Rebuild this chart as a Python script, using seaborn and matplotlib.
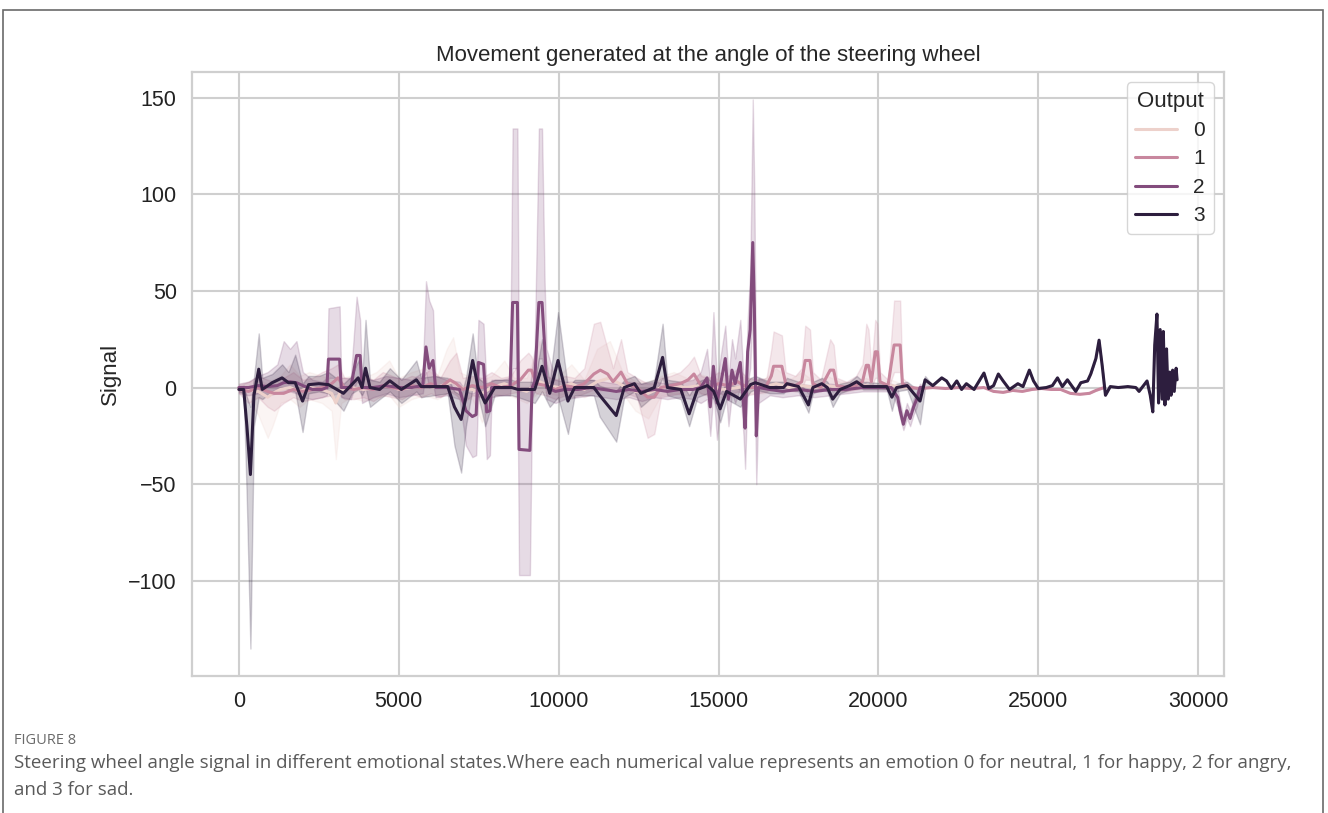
import matplotlib
matplotlib.use("Agg")
import matplotlib.pyplot as plt
from matplotlib.patches import Rectangle
import pandas as pd
import seaborn as sns

# ---------------- data ----------------
# Output 0 (neutral)
x0 = [0, 300, 600, 900, 1050, 1300, 1600, 1900, 2200, 2600, 2900, 3030, 3200, 3500, 3900, 4300, 4700, 5000,
      5400, 5800, 6200, 6500, 6700, 6900, 7300, 7600, 7900, 8300, 8600, 9000, 9400, 9700, 10000, 10400,
      10800, 11200, 11600, 12000, 12400, 12800, 13200, 13600, 14000, 14400, 14800, 15200, 15600, 16000,
      16400, 16800, 17200, 17600, 18000, 18400, 18800, 19200, 19600, 20000, 20400, 20900]
y0 = [0, -1, -2, -5, -3, -1, 0, -2, 0, -1, -3, -8, -1, 0, -1, 0, 1, -1,
      0, 1, 0, 2, 3, 0, -1, -3, 0, 2, 0, -2, 3, 1, 0, 2,
      -1, 3, 5, 1, -2, -3, 0, 1, 0, 1, 0, -1, 0, 1,
      0, 2, 0, 1, 0, 1, 0, 0, 1, 0, 1, 0]
lo0 = [-2, -6, -14, -26, -20, -8, -6, -10, -6, -8, -12, -37, -8, -5, -7, -5, -4, -10,
       -6, -4, -6, -3, -2, -5, -6, -18, -5, -3, -5, -8, -2, -3, -4, -2,
       -5, -2, -1, -3, -12, -16, -4, -3, -4, -3, -5, -5, -4, -3,
       -3, -1, -2, -1, -2, -1, -2, -1, -1, -1, -1, -1]
hi0 = [2, 3, 4, 2, 4, 6, 12, 6, 8, 6, 4, 3, 5, 6, 5, 8, 14, 5,
       8, 10, 6, 20, 26, 8, 5, 4, 6, 14, 5, 5, 24, 10, 6, 12,
       4, 20, 24, 8, 3, 3, 6, 8, 5, 7, 5, 4, 6, 5,
       4, 10, 4, 8, 3, 6, 3, 3, 5, 2, 4, 1]

# Output 1 (happy)
x1 = [0, 300, 600, 900, 1100, 1400, 1700, 2000, 2300, 2600, 2900, 3100, 3300, 3600, 3900, 4200, 4500, 4800,
      5100, 5400, 5700, 6000, 6300, 6600, 6800, 7000, 7300, 7600, 7900, 8200, 8500, 8800, 9050, 9150,
      9300, 9600, 9900, 10200, 10500, 10800, 11100, 11300, 11530, 11700, 11950, 12150, 12450, 12780,
      12990, 13200, 13500, 13800, 14050, 14230, 14450, 14700, 15000, 15300, 15600, 15900, 16200, 16500,
      16650, 16720, 16980, 17100, 17400, 17600, 17710, 17860, 17950, 18200, 18490, 18600, 18700, 19000,
      19300, 19500, 19620, 19690, 19780, 19900, 19970, 20050, 20300, 20490, 20680, 20750, 21000,
      21300, 21700, 22100, 22500, 22900, 23300, 23600, 23900, 24200, 24500, 24800, 25100, 25400,
      25700, 26000, 26300, 26600, 26800, 27060]
y1 = [-1, -2, 0, -2, -3, -3, -1, -2, -1, 0, 2, 5, 0, -1, 0, -1, 1, 0,
      -1, 1, 0, 2, 0, 4, 2, -1, 1, 0, 2, 0, 1, 4, 9, 9,
      2, 1, -1, 1, 0, 2, 7, 9, 7, 3, 8, 2, 0, -5,
      -5, 0, 1, 2, 4, 7, 1, 0, 2, 1, 3, 0, 0, 1,
      6, 11, 11, 2, 1, 3, 14, 14, 2, 0, 9, 9, 1, 0,
      1, 3, 11.5, 11.5, 3, 18.5, 18.5, 3, 1, 22, 22, 2, 0,
      -0.5, 0, -0.5, 0, -0.5, 0, -2, -2.5, -1.5, -2, -1, -0.5, -1,
      -1, -3, -3.5, -3, -1.5, 0]
lo1 = [-3, -8, -5, -10, -12, -8, -5, -7, -6, -5, -4, -3, -6, -6, -5, -7, -4, -5,
       -6, -3, -5, -3, -5, -2, -4, -8, -4, -5, -3, -4, -3, -2, 0, 0,
       -3, -4, -6, -4, -5, -3, -1, 0, 0, -2, 0, -3, -5, -26,
       -24, -5, -4, -3, -1, 0, -3, -4, -3, -4, -2, -4, -3, -2,
       0, 2, 2, -1, -2, -1, 4, 4, -1, -2, 1, 1, -2, -2,
       -1, 0, 3, 3, 0, 5, 5, 0, -1, 8, 8, 0, -1,
       -0.5, 0, -0.5, 0, -0.5, 0, -2, -2.5, -1.5, -2, -1, -0.5, -1,
       -1, -3, -3.5, -3, -1.5, 0]
hi1 = [1, 3, 6, 4, 3, 5, 8, 4, 5, 8, 10, 12, 5, 4, 6, 4, 8, 6,
       4, 6, 5, 10, 5, 14, 18, 5, 6, 5, 8, 5, 6, 14, 18, 16,
       8, 6, 4, 6, 5, 10, 33, 34, 20, 10, 25, 8, 5, 2,
       2, 5, 6, 8, 12, 16, 6, 5, 8, 6, 10, 5, 4, 5,
       20, 29, 27, 8, 6, 10, 32, 30, 8, 4, 25, 22, 5, 3,
       6, 12, 33, 30, 10, 35, 33, 8, 4, 45, 45, 5, 1,
       -0.5, 0, -0.5, 0, -0.5, 0, -2, -2.5, -1.5, -2, -1, -0.5, -1,
       -1, -3, -3.5, -3, -1.5, 0]

# Output 2 (angry)
x2 = [0, 300, 600, 900, 1200, 1400, 1600, 1800, 2000, 2300, 2600, 2750, 2800, 3150, 3200, 3500, 3680, 3790,
      3850, 4200, 4600, 5000, 5400, 5750, 5850, 5950, 6070, 6150, 6500, 6900, 7100, 7300, 7420, 7490,
      7650, 7750, 7850, 7900, 8200, 8480, 8560, 8710, 8760, 9100, 9170, 9250, 9380, 9480, 9560, 9620,
      9900, 10200, 10600, 11000, 11400, 11800, 12200, 12600, 13000, 13400, 13800, 14200, 14440, 14640,
      14740, 14840, 14950, 15100, 15210, 15310, 15420, 15520, 15680, 15780, 15830, 15910, 15990, 16070,
      16120, 16180, 16250, 16600, 17000, 17500, 18000, 18500, 19000, 19500, 20000, 20400, 20600, 20680,
      20780, 20890, 20990, 21100, 21200, 21300, 21400]
y2 = [0, 0, 1, 0.5, 1, 2.5, 3, 2.5, 1, -1, -1, 0, 14.7, 14.7, 0, 0, 16.6, 16.6,
      0, 0, 1, 0, 0, 1, 21, 10, 14, 0, 0, -1, -12, -15, -14, 13,
      12, -12.6, -12, 0, 0, 0, 44, 44, -32, -32.5, 0, 3, 44, 44, 22, 0,
      -2, -1, -1, 0, -1, -2, -1, -2, -1, -2, -1, -1, 0, 5,
      -10, 11, -8, 5, 15, -6, 9, 2, 13, -8, -21, 18.5, 30, 75,
      41, -25, 0, -1, -2, -1, -2, -1, -1, 0, 0, 0, -5, -12,
      -19, -12, -16, -10, -6, 0, 0]
lo2 = [-3, -4, -3, -4, -3, -2, -2, -3, -5, -6, -5, -4, 5, 5, -5, -6, 3, 2,
       -8, -5, -3, -5, -4, -3, 8, 0, 2, -5, -4, -6, -30, -36, -35, -2,
       -4, -37, -35, -5, -4, -4, 10, 10, -97, -97, -5, -2, 15, 15, 5, -6,
       -8, -6, -5, -4, -5, -6, -5, -7, -5, -6, -5, -6, -8, -6,
       -25, -2, -27, -5, 2, -20, -3, -8, 0, -25, -42, 2, 10, 40,
       10, -50, -8, -4, -5, -4, -5, -4, -3, -2, -2, -2, -10, -16,
       -22, -16, -20, -14, -10, -2, 0]
hi2 = [2, 3, 6, 8, 12, 24, 20, 24, 8, 4, 3, 5, 41, 42, 5, 5, 47, 35,
       5, 4, 6, 5, 4, 8, 55, 45, 40, 6, 4, 3, -2, -3, -2, 35,
       33, -2, 0, 4, 4, 5, 134, 134, 0, 0, 10, 20, 134, 134, 55, 20,
       4, 3, 3, 4, 3, 2, 3, 2, 3, 2, 3, 4, 8, 20,
       2, 39, 3, 20, 32, 5, 25, 15, 35, 5, -5, 35, 60, 149,
       100, -5, 5, 2, 1, 2, 1, 2, 1, 2, 1, 2, 0, -8,
       -15, -8, -12, -6, -2, 2, 0]

# Output 3 (sad)
x3 = [0, 150, 250, 360, 470, 620, 730, 1040, 1350, 1550, 1760, 1990, 2180, 2500, 2800, 3270, 3530, 3730,
      3850, 3960, 4100, 4400, 4720, 5080, 5550, 5700, 6100, 6530, 6740, 6950, 7100, 7310, 7480, 7700,
      8000, 8530, 8730, 9250, 9480, 9720, 9980, 10290, 10500, 11100, 11280, 11800, 12050, 12370, 12570,
      12990, 13250, 13400, 13820, 14080, 14340, 14650, 14850, 15050, 15250, 15470, 15680, 16000, 16150,
      16600, 17030, 17140, 17500, 17810, 17950, 18230, 18400, 18570, 18800, 19100, 19320, 19530, 20260,
      20420, 20570, 20900, 21300, 21460, 21700,
      21980, 22130, 22280, 22450, 22600, 22750, 22990, 23300, 23450, 23600, 23750, 23900, 24100, 24360,
      24520, 24720, 24850, 25000, 25250, 25440, 25600, 25750, 25910, 26170, 26330, 26540, 26640, 26800,
      26900, 27000, 27100, 27250, 27500, 27800, 28050, 28150, 28400, 28500, 28580, 28640, 28710, 28760,
      28810, 28870, 28910, 28960, 29010, 29060, 29110, 29150, 29200, 29250, 29310, 29340]
y3 = [-1, -1, -20, -45, -4, 9.5, -1, 2.5, 5, 2.5, 2.5, -7, 1.5, 2, 1.5, -3, 1.5, 5,
      0, 10, 0, -1, 3.5, -1, 4, 0.5, 0.5, 0.5, -10, -16.5, -5, 14, 0, -8,
      0, 0, -1, -1, 11, -3, 14, -7, 0, 0, -4, -14.5, 0, 2, -3,
      0, 15.6, 0, -1, -13.6, -1, 1, -2, -11, -2, -4, -6, 1.5, 2.5,
      0, 0, 2, 0.5, -9, 0, 2, 0, -6, -1, 1, 3, 0.5, 0.5,
      -5, 0, 1, -7, 4, 1,
      5, 3.4, -0.5, 3.4, -1, 2, -1, 7.5, -0.5, 1, 7, 3.4, -1, 2,
      0.5, 9, 3.4, -0.5, 0, 1, 5, 0.5, 4, -2, 2.5, 3.4, 7, 15,
      24.5, 11, -4, 0.5, 0, 0.5, 0, -2, 3.4, -4, -12.6, 22, 38, -8,
      30, -6, 29, -9, 20, -6, 8, -4, 9, -2, 10, 4]
lo3 = [-2, -3, -60, -135, -20, -5, -6, -2, 0, -1, -2, -23, -3, -2, -3, -12, -3, -1,
       -4, 0, -10, -6, -2, -8, -2, -5, -4, -3, -30, -44, -20, 0, -4, -20,
       -4, -4, -5, -8, -2, -10, -5, -24, -4, -4, -15, -28, -5, -2, -10,
       -4, 5, -4, -6, -20, -5, -3, -6, -18, -6, -8, -10, -2, -1,
       -3, -3, -1, -2, -13, -3, -1, -2, -10, -3, -1, 1, -1, -1,
       -12, -2, -1, -19, 0, 1,
       5, 3.4, -0.5, 3.4, -1, 2, -1, 7.5, -0.5, 1, 7, 3.4, -1, 2,
       0.5, 9, 3.4, -0.5, 0, 1, 5, 0.5, 4, -2, 2.5, 3.4, 7, 15,
       24.5, 11, -4, 0.5, 0, 0.5, 0, -2, 3.4, -4, -12.6, 22, 38, -8,
       30, -6, 29, -9, 20, -6, 8, -4, 9, -2, 10, 4]
hi3 = [0, 1, -5, -10, 5, 28, 5, 7, 12, 8, 17, 2, 6, 6, 8, 2, 6, 14,
       4, 35, 4, 3, 10, 4, 14, 5, 6, 5, -2, -4, 5, 28, 5, 2,
       4, 4, 3, 3, 25, 3, 39, 0, 4, 4, 1, -2, 4, 6, 2,
       4, 33, 4, 3, -4, 3, 5, 2, -3, 2, 1, -1, 5, 6,
       3, 3, 5, 3, -3, 3, 5, 3, -2, 2, 3, 6, 3, 2,
       0, 2, 3, -2, 6, 1,
       5, 3.4, -0.5, 3.4, -1, 2, -1, 7.5, -0.5, 1, 7, 3.4, -1, 2,
       0.5, 9, 3.4, -0.5, 0, 1, 5, 0.5, 4, -2, 2.5, 3.4, 7, 15,
       24.5, 11, -4, 0.5, 0, 0.5, 0, -2, 3.4, -4, -12.6, 22, 38, -8,
       30, -6, 29, -9, 20, -6, 8, -4, 9, -2, 10, 4]

outputs = [0, 1, 2, 3]
series = [(x0, y0, lo0, hi0), (x1, y1, lo1, hi1), (x2, y2, lo2, hi2), (x3, y3, lo3, hi3)]

title = "Movement generated at the angle of the steering wheel"
fig_label = "FIGURE 8"
caption_1 = ("Steering wheel angle signal in different emotional states.Where each numerical value represents "
             "an emotion 0 for neutral, 1 for happy, 2 for angry,")
caption_2 = "and 3 for sad."

# long-form table: three observations (low, centre, high) per time step
frames = []
for out, (xs, ys, los, his) in zip(outputs, series):
    for vals in (los, ys, his):
        frames.append(pd.DataFrame({"Time": xs, "Signal": vals, "Output": out}))
df = pd.concat(frames, ignore_index=True)

# ---------------- plot ----------------
sns.set_theme(style="whitegrid")
plt.rcParams["font.family"] = ["Liberation Sans", "DejaVu Sans"]
plt.rcParams["grid.color"] = "#cfcfcf"
plt.rcParams["grid.linewidth"] = 1.5

fig = plt.figure(figsize=(13.28, 8.13), dpi=100)
ax = fig.add_axes([192 / 1328, 1 - 676 / 813, (1224 - 192) / 1328, (676 - 72) / 813])

sns.lineplot(data=df, x="Time", y="Signal", hue="Output", estimator="median",
             errorbar=("pi", 100), linewidth=2.2, ax=ax)

ax.set_title(title, fontsize=16, pad=8)
ax.set_xlabel("")
ax.set_ylabel("Signal", fontsize=16, labelpad=5)
ax.tick_params(axis="both", labelsize=15.5, length=0, pad=11, colors="#222222")
for sp in ax.spines.values():
    sp.set_color("#cfcfcf")
    sp.set_linewidth(1.6)

sns.move_legend(ax, "upper right", fontsize=15, title_fontsize=16, handlelength=2.0,
                labelspacing=0.45, borderaxespad=0.5)

# caption and frame
cap_font = ["Open Sans", "DejaVu Sans"]
fig.text(14 / 1328, 1 - 740 / 813, fig_label, fontsize=10.5, color="#6a6a6a",
         family=cap_font, va="center", ha="left")
fig.text(14 / 1328, 1 - 763 / 813, caption_1, fontsize=13.5, color="#5a5a5a",
         family=cap_font, va="center", ha="left")
fig.text(14 / 1328, 1 - 790 / 813, caption_2, fontsize=13.5, color="#5a5a5a",
         family=cap_font, va="center", ha="left")
fig.patches.append(Rectangle((3 / 1328, -0.02), (1323 - 3) / 1328, 1 - 10 / 813 + 0.02,
                             transform=fig.transFigure, fill=False, edgecolor="#6a6a6a", linewidth=1.2))

fig.savefig("out.png", dpi=100)
